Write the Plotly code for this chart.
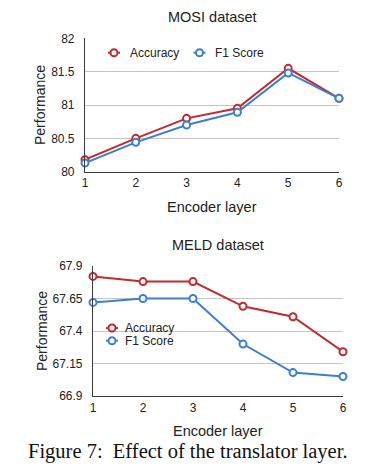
import plotly.graph_objects as go

layers = [1, 2, 3, 4, 5, 6]
mosi_acc = [80.18, 80.50, 80.80, 80.95, 81.55, 81.10]
mosi_f1 = [80.13, 80.44, 80.70, 80.89, 81.48, 81.10]
meld_acc = [67.82, 67.78, 67.78, 67.59, 67.51, 67.24]
meld_f1 = [67.62, 67.65, 67.65, 67.30, 67.08, 67.05]
mosi_ticks = [80, 80.5, 81, 81.5, 82]
mosi_ticktext = ["80", "80.5", "81", "81.5", "82"]
meld_ticks = [66.9, 67.15, 67.4, 67.65, 67.9]
meld_ticktext = ["66.9", "67.15", "67.4", "67.65", "67.9"]
series_names = ["Accuracy", "F1 Score"]

RED = "#bf2b2f"
BLUE = "#3e7fcc"
COLORS = [RED, BLUE]
W, H = 387, 467
OFF = 8  # page body margin
FONT = "Liberation Sans"


def PX(v):
    return (v - OFF) / W


def PY(v):
    return 1 - (v - OFF) / H


fig = go.Figure()


def add(x, y, name, color, xa, ya):
    fig.add_trace(go.Scatter(
        x=x, y=y, name=name, mode="lines+markers",
        line=dict(color=color, width=2),
        marker=dict(symbol="circle", size=7, color="white",
                    line=dict(color=color, width=2)),
        xaxis=xa, yaxis=ya, cliponaxis=False, showlegend=False))


add(layers, mosi_acc, series_names[0], RED, "x", "y")
add(layers, mosi_f1, series_names[1], BLUE, "x", "y")
add(layers, meld_acc, series_names[0], RED, "x2", "y2")
add(layers, meld_f1, series_names[1], BLUE, "x2", "y2")

axis_common = dict(showline=True, linecolor="#3a3a3a", linewidth=1.2,
                   ticks="", tickfont=dict(family=FONT, size=12, color="#222"),
                   zeroline=False, automargin=False)

fig.update_layout(
    template="none",
    width=W, height=H, margin=dict(l=0, r=0, t=0, b=0, autoexpand=False),
    paper_bgcolor="white", plot_bgcolor="white",
    font=dict(family=FONT, color="#222"),
    showlegend=False,
    xaxis=dict(domain=[PX(85), PX(339)], range=[1, 6], tickvals=layers,
               showgrid=False, anchor="y", **axis_common),
    yaxis=dict(domain=[PY(171.7), PY(38.3)], range=[80, 82],
               tickvals=mosi_ticks, ticktext=mosi_ticktext,
               showgrid=True, gridcolor="#c4c4c4", gridwidth=1,
               anchor="x", ticklabelstandoff=7, **axis_common),
    xaxis2=dict(domain=[PX(93), PX(343)], range=[1, 6], tickvals=layers,
                showgrid=False, anchor="y2", **axis_common),
    yaxis2=dict(domain=[PY(396), PY(266)], range=[66.9, 67.9],
                tickvals=meld_ticks, ticktext=meld_ticktext,
                showgrid=True, gridcolor="#c4c4c4", gridwidth=1,
                anchor="x2", ticklabelstandoff=7, **axis_common),
)

# legend entries (marker + label)
legend_items = [
    (114, 52.7, 127.5), (199.5, 52.7, 213),
    (112, 328, 123), (112, 340.7, 123),
]
for i, (mx, my, tx) in enumerate(legend_items):
    c = COLORS[i % 2]
    fig.add_shape(type="line", xref="paper", yref="paper", xsizemode="pixel",
                  ysizemode="pixel", xanchor=PX(mx), yanchor=PY(my),
                  x0=-6, x1=6, y0=0, y1=0, line=dict(color=c, width=2))
    fig.add_shape(type="circle", xref="paper", yref="paper", xsizemode="pixel",
                  ysizemode="pixel", xanchor=PX(mx), yanchor=PY(my),
                  x0=-3.5, x1=3.5, y0=-3.5, y1=3.5, fillcolor="white",
                  line=dict(color=c, width=2))
    fig.add_annotation(text=series_names[i % 2], x=PX(tx), y=PY(my), xref="paper",
                       yref="paper", showarrow=False, xanchor="left", yanchor="middle",
                       font=dict(family=FONT, size=12, color="#222"))

ann = [
    ("MOSI dataset", 212, 17),
    ("Encoder layer", 212, 207),
    ("MELD dataset", 218, 245),
    ("Encoder layer", 218, 431),
]
for text, x, y in ann:
    fig.add_annotation(text=text, x=PX(x), y=PY(y), xref="paper", yref="paper",
                       showarrow=False, xanchor="center", yanchor="middle",
                       font=dict(family=FONT, size=14.5, color="#222"))
for (xp, yp) in [(40, 105), (42, 331)]:
    fig.add_annotation(text="Performance", x=PX(xp), y=PY(yp), xref="paper", yref="paper",
                       showarrow=False, textangle=-90, xanchor="center", yanchor="middle",
                       font=dict(family=FONT, size=14, color="#222"))
fig.add_annotation(text="Figure 7:  Effect of the translator layer.", x=PX(188), y=PY(451),
                   xref="paper", yref="paper", showarrow=False, xanchor="center",
                   yanchor="middle", font=dict(family="Liberation Serif", size=20.5, color="#111"))

fig.write_html("out.html")
